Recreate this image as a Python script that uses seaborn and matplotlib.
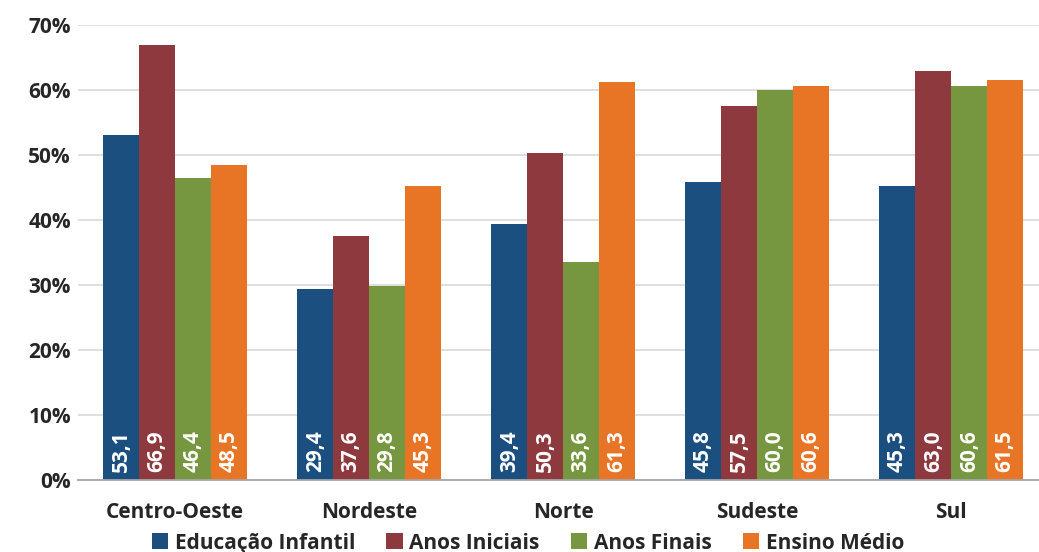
import matplotlib
matplotlib.use("Agg")
import matplotlib.pyplot as plt
import seaborn as sns
import pandas as pd
import numpy as np
from matplotlib.ticker import PercentFormatter, FixedLocator

regions = ["Centro-Oeste", "Nordeste", "Norte", "Sudeste", "Sul"]
series = ["Educação Infantil", "Anos Iniciais", "Anos Finais", "Ensino Médio"]
educacao_infantil = [53.1, 29.4, 39.4, 45.8, 45.3]
anos_iniciais = [66.9, 37.6, 50.3, 57.5, 63.0]
anos_finais = [46.4, 29.8, 33.6, 60.0, 60.6]
ensino_medio = [48.5, 45.3, 61.3, 60.6, 61.5]
colors = ["#1A4F80", "#8E393D", "#76963F", "#E87425"]

values = [educacao_infantil, anos_iniciais, anos_finais, ensino_medio]
rows = []
for s, vals in zip(series, values):
    for r, v in zip(regions, vals):
        rows.append({"Região": r, "Série": s, "Valor": v / 100})
df = pd.DataFrame(rows)

sns.set_style("white")
plt.rcParams["font.family"] = ["Open Sans", "DejaVu Sans"]
plt.rcParams["font.weight"] = "bold"

fig = plt.figure(figsize=(10.39, 5.52), dpi=100)
ax = fig.add_axes([0.075, 0.1304, 0.934, 0.8243])

sns.barplot(data=df, x="Região", y="Valor", hue="Série", order=regions,
            hue_order=series, palette=colors, width=0.74, gap=0,
            saturation=1, ax=ax, legend=True, edgecolor="none", linewidth=0)

ax.set_ylim(0, 0.7)
ax.set_xlim(-0.5, 4.5)
ax.yaxis.set_major_locator(FixedLocator(np.arange(0, 0.71, 0.1)))
ax.yaxis.set_major_formatter(PercentFormatter(1.0, decimals=0))
ax.grid(axis="y", color="#D9D9D9", linewidth=1.2)
ax.set_axisbelow(True)
for sp in ["top", "right", "left"]:
    ax.spines[sp].set_visible(False)
ax.spines["bottom"].set_color("#A6A6A6")
ax.spines["bottom"].set_linewidth(1.3)

ax.set_xlabel("")
ax.set_ylabel("")
ax.tick_params(axis="y", length=0, labelsize=15, pad=5, labelcolor="#262626")
ax.tick_params(axis="x", which="major", length=0, labelsize=15, pad=16, labelcolor="#262626")
ax.set_xticks(np.arange(-0.5, 5.0, 1.0), minor=True)
ax.tick_params(axis="x", which="minor", length=6, color="#A6A6A6", width=1.3, direction="out")
for lbl in ax.get_xticklabels() + ax.get_yticklabels():
    lbl.set_fontweight("bold")

for patch in ax.patches:
    h = patch.get_height()
    if h <= 0 or patch.get_width() <= 0:
        continue
    x = patch.get_x() + patch.get_width() / 2
    txt = f"{h*100:.1f}".replace(".", ",")
    ax.text(x, 0.012, txt, rotation=90, ha="center", va="bottom",
            color="white", fontsize=15, fontweight="bold")

handles, labels = ax.get_legend_handles_labels()
ax.legend_.remove()
leg = fig.legend(handles, labels, loc="lower center", bbox_to_anchor=(0.508, -0.037),
                 ncol=4, frameon=False, fontsize=15, handlelength=0.8,
                 handleheight=0.8, handletextpad=0.3, columnspacing=1.5)
for t in leg.get_texts():
    t.set_fontweight("bold")
    t.set_color("#262626")

fig.savefig("out.png", dpi=100)
